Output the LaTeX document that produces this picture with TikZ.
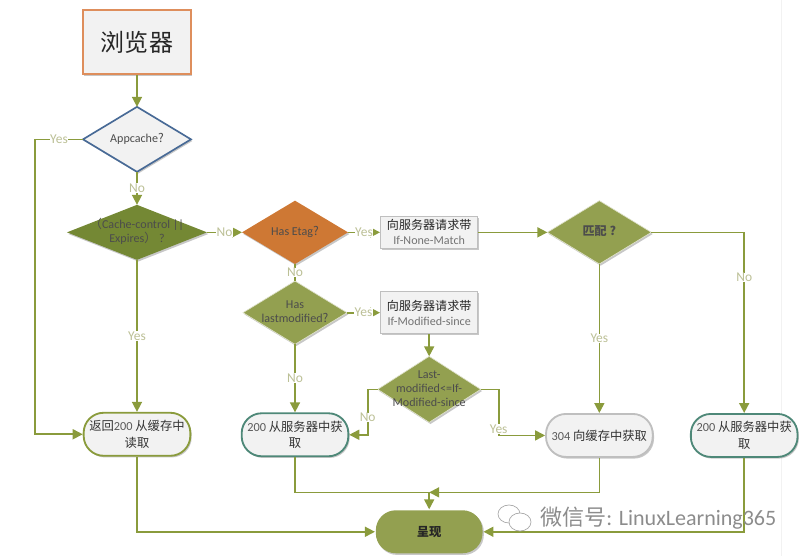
\documentclass[tikz,border=0pt]{standalone}
\usepackage{xcolor}
\usepackage{fontspec}
\setmainfont{Carlito}
\newfontfamily\cjk{Noto Sans CJK SC}
\definecolor{flowolive}{RGB}{138, 155, 60}
\definecolor{leafolive}{RGB}{147, 160, 80}
\definecolor{darkolive}{RGB}{116, 136, 52}
\definecolor{burntorange}{RGB}{206, 120, 52}
\definecolor{paleorange}{RGB}{222, 142, 92}
\definecolor{steelblue}{RGB}{72, 106, 150}
\definecolor{tealedge}{RGB}{78, 136, 120}
\definecolor{softgray}{RGB}{242, 242, 242}
\definecolor{labelgray}{RGB}{188, 192, 150}
\usetikzlibrary{shapes.geometric, arrows.meta, positioning, shadows}
% text inside a diamond must not widen the shape
\newcommand{\difftext}[1]{\makebox[0pt]{\smash{\raisebox{-0.25em}{\begin{tabular}{@{}c@{}}#1\end{tabular}}}}}

\begin{document}
\begin{tikzpicture}[
    x=0.03cm, y=-0.03cm,
    softshadow/.style={drop shadow={shadow xshift=0.4mm, shadow yshift=-0.5mm, opacity=0.22, fill=black}},
    decision/.style={diamond, minimum width=31.2mm, minimum height=19mm, inner sep=0pt, outer sep=0pt,
                     fill=leafolive, draw=white!70!leafolive, line width=0.2mm, softshadow, font=\fontsize{10.3}{12}\selectfont, text=black!70},
    request/.style={rectangle, minimum width=29.1mm, fill=softgray, draw=black!25, line width=0.4mm,
                    align=center, softshadow, font=\fontsize{10.3}{13}\selectfont, text=black!55},
    terminal/.style={rectangle, rounded corners=6mm, minimum width=32mm, minimum height=12.9mm, fill=softgray,
                     line width=0.55mm, align=center, inner sep=0pt, softshadow, font=\fontsize{10.5}{14}\selectfont, text=black!65},
    flow/.style={draw=flowolive, line width=0.5mm, -{Triangle[length=3mm,width=3mm]}},
    flowplain/.style={draw=flowolive, line width=0.5mm},
    edgelabel/.style={fill=white, inner sep=0.5pt, text=labelgray, font=\fontsize{11.5}{13}\selectfont}
]
    \useasboundingbox (0,0) rectangle (800,556);
    \draw[black!5, line width=0.3mm] (781,0) -- (781,556);

    % Left column
    \node[rectangle, minimum width=32.4mm, minimum height=19.2mm, fill=softgray, draw=paleorange, line width=0.5mm,
          softshadow, font=\fontsize{20.5}{24}\selectfont, text=black!85] (browser) at (137,42) {\cjk 浏览器};
    \node[decision, minimum width=32.4mm, minimum height=19.5mm, fill=softgray, draw=steelblue, line width=0.5mm, below=9.6mm of browser] (appcache) {\difftext{Appcache{\cjk ?}}};
    \node[decision, minimum width=42mm, minimum height=16.5mm, fill=darkolive, draw=none, below=9.9mm of appcache] (cachectl) {\difftext{{\cjk （}Cache-control ||\\Expires{\cjk ）} ?}};
    \node[terminal, draw=flowolive, below=45.6mm of cachectl] (readcache) {{\cjk\color{black!80} 返回}200 {\cjk\color{black!80} 从缓存中}\\{\cjk\color{black!80} 读取}};

    % Middle column
    \node[decision, minimum width=31.8mm, fill=burntorange, draw=none, right=10.5mm of cachectl] (etag) {\difftext{Has Etag{\cjk ?}}};
    \node[decision, below=5.1mm of etag] (lastmod) {\difftext{Has\\lastmodified{\cjk ?}}};
    \node[terminal, draw=tealedge, below=20.4mm of lastmod] (fetchleft) {200 {\cjk\color{black!80} 从服务器中获}\\{\cjk\color{black!80} 取}};
    \node[request, minimum height=9.6mm, inner sep=0pt, right=9.6mm of etag] (nonematch) {{\cjk\color{black!85} 向服务器请求带}\\If-None-Match};
    \node[request, minimum height=12.6mm, inner sep=0pt, right=9.9mm of lastmod] (modsince) {{\cjk\color{black!85} 向服务器请求带}\\If-Modified-since};
    \node[decision, minimum width=30.9mm, minimum height=19.8mm, below=6.6mm of modsince] (lastcmp) {\difftext{Last-\\modified<=If-\\Modified-since}};
    \node[terminal, fill=leafolive, draw=none, below=26.1mm of lastcmp, text=black!85] (present) {\cjk\bfseries 呈现};

    % Right column
    \node[decision, right=20.7mm of nonematch] (match) {\difftext{\cjk\bfseries 匹配 ?}};
    \node[terminal, draw=black!25, below=44.7mm of match] (notmod) {304 {\cjk\color{black!80} 向缓存中获取}};
    \node[terminal, draw=tealedge, right=10.9mm of notmod] (fetchright) {200 {\cjk\color{black!80} 从服务器中获}\\{\cjk\color{black!80} 取}};

    % Bends
    \coordinate[left=14.4mm of appcache.west] (yesbend);
    \coordinate[left=3mm of lastcmp.west] (nobend);
    \coordinate[right=5.4mm of lastcmp.east] (okbend);
    \coordinate[above=5.1mm of present.north] (merge);

    % Connectors
    \draw[flow] (browser) -- (appcache);
    \draw[flow] (appcache.west) -- node[edgelabel] {Yes} (yesbend) |- (readcache.west);
    \draw[flow] (appcache) -- node[edgelabel] {No} (cachectl);
    \draw[flow] (cachectl) -- node[edgelabel] {Yes} (readcache);
    \draw[flow] (cachectl) -- node[edgelabel] {No} (etag);
    \draw[flow] (etag) -- node[edgelabel] {Yes} (nonematch);
    \draw[flowplain] (etag) -- node[edgelabel] {No} (lastmod);
    \draw[flow] (nonematch) -- (match);
    \draw[flow] (lastmod) -- node[edgelabel] {Yes} (modsince);
    \draw[flow] (lastmod) -- node[edgelabel] {No} (fetchleft);
    \draw[flow] (modsince) -- (lastcmp);
    \draw[flow] (lastcmp.west) -- (nobend) |- node[edgelabel, pos=0.31] {No} (fetchleft.east);
    \draw[flow] (lastcmp.east) -- (okbend) |- node[edgelabel, pos=0.43] {Yes} (notmod.west);
    \draw[flow] (match) -- node[edgelabel] {Yes} (notmod);
    \draw[flow] (match.east) -| node[edgelabel, pos=0.625] {No} (fetchright.north);
    \draw[flowplain] (fetchleft.south) |- (merge);
    \draw[flow] (notmod.south) |- (merge);
    \draw[flow] (merge) -- (present);
    \draw[flow] (readcache.south) |- (present.west);
    \draw[flow] (fetchright.south) |- (present.east);

    % Watermark
    \node[ellipse, minimum width=6.6mm, minimum height=5.4mm, inner sep=0pt, draw=black!35, line width=0.2mm, fill=white] (bubbleback) at (509,514) {};
    \node[ellipse, minimum width=6.6mm, minimum height=5.4mm, inner sep=0pt, draw=black!35, line width=0.2mm, fill=white] (bubblefront) at (520,522) {};
    \node[anchor=west, inner sep=0pt, text=black!45, font=\fontsize{18.8}{22}\selectfont] (mark) at (540,518) {{\cjk 微信号}: LinuxLearning365};
\end{tikzpicture}
\end{document}
